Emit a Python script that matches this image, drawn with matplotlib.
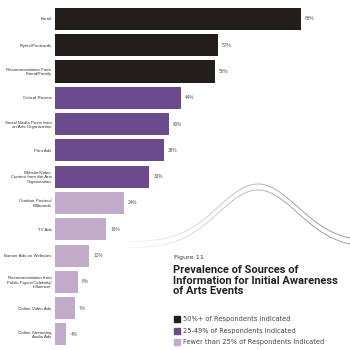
import numpy as np
import matplotlib
matplotlib.use("Agg")
import matplotlib.pyplot as plt
from matplotlib.collections import LineCollection
from matplotlib.patches import Rectangle

categories = [
    "Email",
    "Flyers/Postcards",
    "Recommendation From\nFriend/Family",
    "Critical Review",
    "Social Media Posts from\nan Arts Organization",
    "Print Ads",
    "Website/Video\nContent from the Arts\nOrganization",
    "Outdoor Posters/\nBillboards",
    "TV Ads",
    "Banner Ads on Websites",
    "Recommendation from\nPublic Figure/Celebrity/\nInfluencer",
    "Online Video Ads",
    "Online Streaming\nAudio Ads",
]
values = [86, 57, 56, 44, 40, 38, 33, 24, 18, 12, 8, 7, 4]
groups = [0, 0, 0, 1, 1, 1, 1, 2, 2, 2, 2, 2, 2]

group_colors = ["#221e19", "#6b4b8b", "#c2abc9"]
group_labels = [
    "50%+ of Respondents Indicated",
    "25-49% of Respondents Indicated",
    "Fewer than 25% of Respondents Indicated",
]

W = H = 350
fig = plt.figure(figsize=(3.5, 3.5), dpi=100)
fig.patch.set_facecolor("white")

# decorative swoosh behind everything
deco = fig.add_axes([0, 0, 1, 1], zorder=0)
deco.set_xlim(0, W)
deco.set_ylim(H, 0)
deco.axis("off")
xs = np.linspace(110, 352, 300)
for off in [0, 6]:
    ys = 184 + off + 58 * (1 - np.exp(-((xs - 258) / 56) ** 2))
    pts = np.column_stack([xs, ys]).reshape(-1, 1, 2)
    segs = np.concatenate([pts[:-1], pts[1:]], axis=1)
    a = np.clip((xs[:-1] - 120) / 190, 0, 1) * 0.8
    cols = [(0.42, 0.38, 0.42, v) for v in a]
    deco.add_collection(LineCollection(segs, colors=cols, linewidths=0.6))

ax = fig.add_axes([55 / W, 1 - 347.6 / H, 286 / W, (347.6 - 5.8) / H], zorder=1)
ax.patch.set_alpha(0)
y = np.arange(len(categories))
bar_cols = [group_colors[g] for g in groups]
ax.barh(y, values, height=0.84, color=bar_cols)
ax.set_xlim(0, 100)
ax.set_ylim(len(categories) - 0.5, -0.5)
for s in ax.spines.values():
    s.set_visible(False)
ax.set_xticks([])
ax.set_yticks(y)
ax.set_yticklabels(categories, fontsize=3.2, color="#333333", linespacing=1.15,
                   family="Liberation Sans")
ax.tick_params(axis="y", length=0, pad=2.5)
for yi, v in zip(y, values):
    ax.text(v + 1.4, yi, f"{v}%", va="center", ha="left", fontsize=3.4,
            color="#555555", family="Liberation Sans")

# title block
fig.text(174 / W, 1 - 257 / H, "Figure 11", fontsize=4.6, color="#333333", va="center")
fig.text(173 / W, 1 - 265 / H,
         "Prevalence of Sources of\nInformation for Initial Awareness\nof Arts Events",
         fontsize=8, fontweight="bold", family="Roboto",
         color="#222222", va="top", linespacing=1.08)

leg_y = [319, 330.5, 342]
for c, lab, ly in zip(group_colors, group_labels, leg_y):
    fig.patches.append(Rectangle((174 / W, 1 - (ly + 3) / H), 6 / W, 6 / H,
                                 transform=fig.transFigure, color=c, figure=fig))
    fig.text(183 / W, 1 - ly / H, lab, fontsize=4.8, color="#444444", va="center")

fig.savefig("out.png", dpi=100)
